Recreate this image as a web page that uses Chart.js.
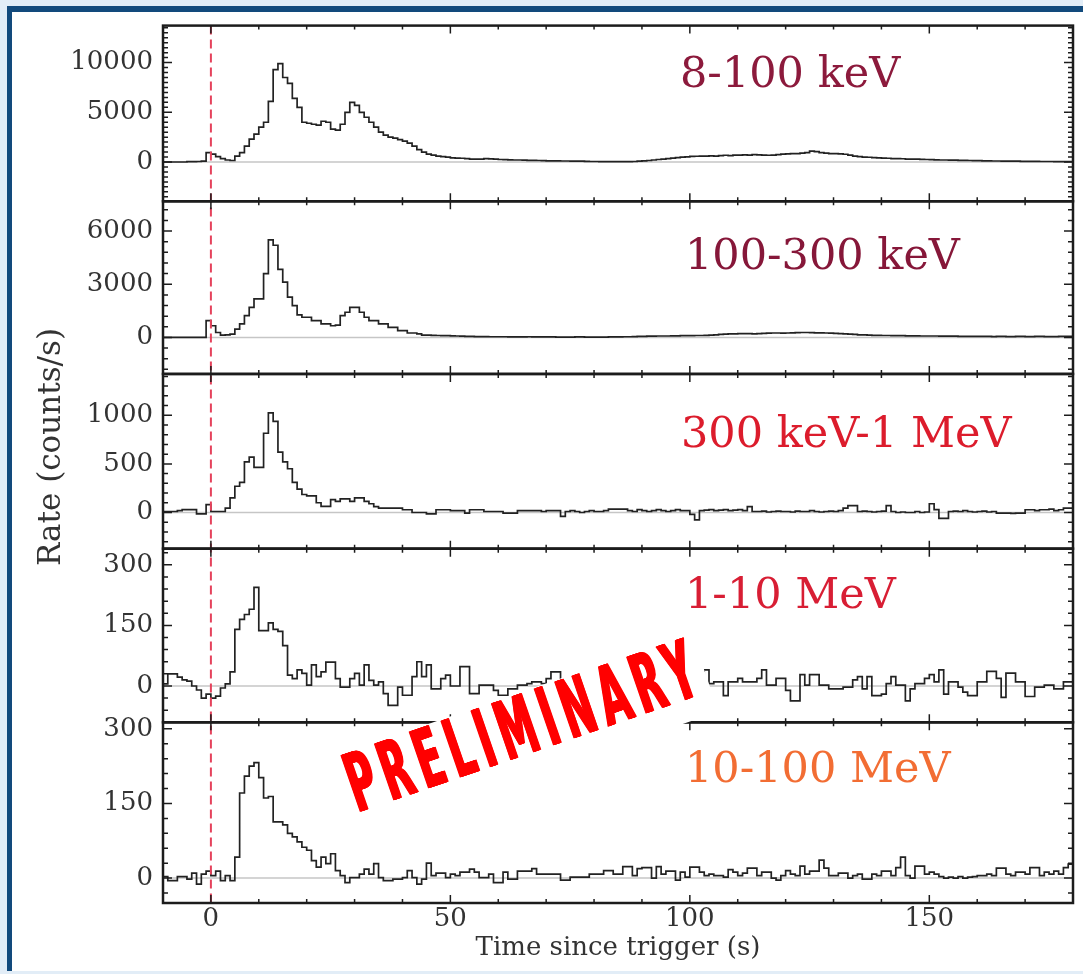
<!DOCTYPE html>
<html><head><meta charset="utf-8">
<script src="https://cdn.jsdelivr.net/npm/chart.js@4.4.1/dist/chart.umd.min.js"></script>
<style>
html,body{margin:0;padding:0;}
body{width:1083px;height:974px;overflow:hidden;background:#e2edf7;position:relative;}
#band{position:absolute;left:7px;top:6px;right:0;bottom:3px;background:#124a7c;}
#sheet{position:absolute;left:12px;top:12px;right:0;bottom:3px;background:#ffffff;}
canvas{position:absolute;left:0;top:0;}
</style></head><body>
<div id="band"></div><div id="sheet"></div>
<canvas id="c" width="1083" height="974"></canvas>
<script>
// ---- data (1 s bins, from -10 s to 180 s) ----
const timeStart = -10;
const binWidth = 1;
const timeEnd = 180;

const bandLabels = ['8-100 keV', '100-300 keV', '300 keV-1 MeV', '1-10 MeV', '10-100 MeV'];

const rate8to100keV = [
  0,0,0,0,0,30,40,50,80,950,
  800,550,350,200,150,600,950,1600,2300,2800,
  3500,4000,6100,9300,9900,8500,7900,6400,5500,4000,
  3900,3800,3700,4100,4000,3300,3200,3800,5000,6000,
  5700,5000,4500,4000,3500,3000,2700,2500,2400,2250,
  2100,1900,1600,1250,1000,800,700,600,550,500,
  420,400,380,350,300,280,300,350,320,300,
  250,230,220,200,200,180,170,160,150,130,
  120,120,110,100,100,90,90,80,60,50,
  50,40,30,30,40,30,30,40,50,80,
  120,150,200,250,300,350,400,450,500,520,
  560,580,600,600,620,600,650,680,650,700,
  700,720,700,750,720,700,680,700,750,800,
  820,850,850,900,950,1100,1050,950,900,850,
  850,820,780,700,600,550,500,480,450,420,
  400,380,350,350,330,300,300,280,260,250,
  230,220,200,200,180,180,160,160,150,140,
  130,120,110,100,100,90,80,80,80,70,
  70,60,60,50,50,50,40,40,40,40
];
const rate100to300keV = [
  0,0,0,0,0,0,0,0,0,950,
  660,280,130,150,190,470,760,1230,1700,2180,
  2180,3600,5500,5200,3840,3120,2270,1800,1270,1140,
  1140,950,950,760,760,660,700,1230,1420,1700,
  1700,1420,1140,950,950,760,760,570,570,380,
  380,250,250,200,130,130,120,110,100,100,
  90,80,70,60,60,50,50,50,40,40,
  40,40,30,30,30,30,40,30,30,30,
  30,30,20,20,20,20,30,30,20,20,
  20,20,20,30,30,30,40,40,50,60,
  60,70,70,80,80,80,90,90,100,100,
  100,110,110,120,130,150,170,190,200,200,
  210,220,220,200,210,230,240,250,250,240,
  250,260,270,280,280,270,260,260,250,240,
  230,220,200,190,170,150,140,130,120,120,
  110,110,100,100,100,90,90,90,80,80,
  80,80,70,70,70,70,60,60,60,60,
  60,60,60,50,60,60,50,50,60,60,
  50,50,60,60,50,50,50,60,60,60
];
const rate300keVto1MeV = [
  10,10,10,20,30,30,30,-15,-15,80,
  10,10,10,45,150,270,310,520,570,465,
  465,815,1025,937,620,520,450,310,240,185,
  170,170,100,63,63,133,115,140,140,115,
  150,150,115,90,60,45,45,45,45,45,
  28,28,0,0,0,-15,-15,28,28,28,
  20,20,20,-7,28,28,28,10,10,10,
  10,-7,-7,-7,20,20,20,20,20,10,
  20,20,20,-40,10,20,10,0,10,20,
  10,10,20,35,35,35,35,20,10,30,
  20,10,20,30,20,10,20,30,20,20,
  -20,-75,20,25,30,20,25,30,20,25,
  30,20,60,10,10,15,5,10,15,10,
  10,5,15,10,10,20,10,5,10,15,
  10,20,45,70,70,10,15,10,5,10,
  15,70,10,0,5,0,0,10,0,5,
  90,30,-60,-60,10,15,10,20,10,5,
  10,15,5,10,-7,-7,-7,-10,-7,-7,
  28,28,20,28,28,35,20,28,45,45
];
const rate1to10MeV = [
  5,30,30,22,15,12,0,-10,-30,-20,
  -30,-25,-5,5,35,140,165,177,190,244,
  137,137,156,140,135,100,27,18,40,31,
  2,52,23,35,59,59,18,-3,-3,18,
  31,2,52,14,2,10,-19,-48,-48,-3,
  -23,-23,23,60,23,52,-7,-7,18,27,
  0,0,48,48,-19,-19,2,2,2,-11,
  -23,-23,-7,-7,2,2,6,10,10,6,
  18,35,35,10,-10,20,5,-15,30,0,
  15,-20,10,25,-5,5,40,-10,0,20,
  -15,10,30,-5,5,15,-20,0,35,10,
  -10,20,5,40,6,10,10,-24,10,10,
  19,10,10,10,19,40,2,2,19,19,
  -11,-37,-37,28,2,28,28,2,2,-7,
  -7,-7,-3,-3,15,23,-7,23,-24,-24,
  -20,6,23,2,2,-37,-7,6,6,19,
  28,10,40,-20,10,10,-3,-15,-24,-24,
  10,10,36,36,19,-28,32,32,10,10,
  -26,-26,-3,-3,2,2,-7,-7,10,10
];
const rate10to100MeV = [
  3,-5,-5,3,3,-2,10,-12,8,14,
  5,14,-5,5,-5,42,171,205,225,232,
  202,161,164,113,113,107,90,83,73,62,
  56,35,22,42,29,49,15,5,-9,1,
  1,8,18,8,29,1,-5,-5,-2,-2,
  1,15,1,-12,-2,30,5,10,10,1,
  8,5,12,12,18,12,1,1,8,-9,
  -9,12,-2,-2,14,14,14,19,8,8,
  8,8,8,-4,-4,2,2,2,2,8,
  8,8,15,15,8,8,23,23,5,19,
  21,21,0,23,8,14,14,-4,12,2,
  22,22,12,5,8,5,5,2,17,12,
  5,10,20,20,5,12,12,0,-4,5,
  15,8,5,24,8,14,14,36,20,5,
  5,10,10,0,5,8,-2,-2,8,5,
  14,14,5,21,42,5,0,24,24,8,
  12,8,3,0,2,0,3,0,2,3,
  5,5,8,5,20,20,8,5,12,12,
  8,21,21,5,12,8,14,8,21,28
];
const seriesValues = [rate8to100keV, rate100to300keV, rate300keVto1MeV, rate1to10MeV, rate10to100MeV];

// tick labels
const xTickValues = [0, 50, 100, 150];
const yTickValues = [[0, 5000, 10000], [0, 3000, 6000], [0, 500, 1000], [0, 150, 300], [0, 150, 300]];
const yMinorStep = [500, 600, 100, 30, 30];

// axis limits
const yMin = [-3950, -2060, -372, -90, -50];
const yMax = [13720, 7680, 1425, 340, 313];
const panelWeight = [176, 173, 175, 174, 181];

const xTitle = 'Time since trigger (s)';
const yTitle = 'Rate (counts/s)';
const stampText = 'PRELIMINARY';

// ---- styling ----
const panelIds = ['y1', 'y2', 'y3', 'y4', 'y5'];
const labelColors = ['#8c1a3c', '#861739', '#dc1c2c', '#d81e34', '#f26d33'];
const labelLeft = [680, 685, 681, 685, 685];
const labelBaseOffset = [61, 68, 73, 59, 60];
const serif = '"DejaVu Serif", "Liberation Serif", serif';
const textColor = '#333333';

function toSteps(vals) {
  const pts = vals.map((v, i) => ({ x: timeStart + i * binWidth, y: v }));
  pts.push({ x: timeEnd, y: vals[vals.length - 1] });
  return pts;
}

const scales = {
  x: {
    type: 'linear', position: 'bottom', min: timeStart, max: timeEnd,
    grid: { display: false, drawTicks: false }, border: { display: false },
    ticks: { font: { family: serif, size: 26 }, color: textColor, padding: 1, maxRotation: 0, autoSkip: false,
             callback: v => String(v) },
    afterBuildTicks: s => { s.ticks = xTickValues.map(v => ({ value: v })); },
    afterFit: s => { s.height = 60; }
  }
};
panelIds.forEach((id, i) => {
  scales[id] = {
    type: 'linear', position: 'left', stack: 'bands', stackWeight: panelWeight[i], weight: 5 - i,
    min: yMin[i], max: yMax[i],
    grid: { display: false, drawTicks: false }, border: { display: false },
    ticks: { font: { family: serif, size: 26 }, color: textColor, padding: 10, autoSkip: false,
             callback: v => String(v) },
    afterBuildTicks: s => { s.ticks = yTickValues[i].map(v => ({ value: v })); },
    afterFit: s => { s.width = 151; }
  };
});

const decor = {
  id: 'decor',
  beforeDatasetsDraw(chart) {
    const ctx = chart.ctx, { left, right } = chart.chartArea;
    ctx.save();
    ctx.strokeStyle = '#c6c6c6'; ctx.lineWidth = 1.5;
    panelIds.forEach(id => {
      const y = chart.scales[id].getPixelForValue(0);
      ctx.beginPath(); ctx.moveTo(left, y); ctx.lineTo(right, y); ctx.stroke();
    });
    ctx.restore();
  },
  afterDatasetsDraw(chart) {
    const ctx = chart.ctx, area = chart.chartArea, xs = chart.scales.x;
    ctx.save();
    // trigger line
    const x0 = xs.getPixelForValue(0);
    ctx.strokeStyle = '#e5425c'; ctx.lineWidth = 2; ctx.setLineDash([9, 5]);
    ctx.beginPath(); ctx.moveTo(x0, area.top); ctx.lineTo(x0, area.bottom); ctx.stroke();
    ctx.setLineDash([]);
    // frames and ticks
    ctx.strokeStyle = '#1c1c1c';
    panelIds.forEach((id, i) => {
      const s = chart.scales[id];
      const top = s.top, bot = s.bottom;
      ctx.lineWidth = 1.5;
      for (let v = timeStart + 10; v < timeEnd; v += 10) {
        const px = xs.getPixelForValue(v);
        const len = (v % 50 === 0) ? 8 : 4;
        ctx.beginPath();
        ctx.moveTo(px, top); ctx.lineTo(px, top + len);
        ctx.moveTo(px, bot); ctx.lineTo(px, bot - len);
        ctx.stroke();
      }
      const step = yMinorStep[i];
      for (let v = Math.ceil(yMin[i] / step) * step; v <= yMax[i]; v += step) {
        const py = s.getPixelForValue(v);
        if (py < top + 2 || py > bot - 2) continue;
        const len = yTickValues[i].includes(v) ? 9 : 5;
        ctx.beginPath();
        ctx.moveTo(area.left, py); ctx.lineTo(area.left + len, py);
        ctx.moveTo(area.right, py); ctx.lineTo(area.right - len, py);
        ctx.stroke();
      }
      ctx.lineWidth = 2.5;
      ctx.strokeRect(area.left, top, area.right - area.left, bot - top);
      // band label
      ctx.fillStyle = labelColors[i];
      ctx.font = '43px ' + serif;
      ctx.textAlign = 'left'; ctx.textBaseline = 'alphabetic';
      ctx.fillText(bandLabels[i], labelLeft[i], top + labelBaseOffset[i]);
    });
    // axis titles
    ctx.fillStyle = textColor;
    ctx.font = '26px ' + serif;
    ctx.textAlign = 'center'; ctx.textBaseline = 'middle';
    ctx.fillText(xTitle, (area.left + area.right) / 2, 948);
    ctx.save();
    ctx.font = '31px ' + serif;
    ctx.translate(52, 447); ctx.rotate(-Math.PI / 2);
    ctx.fillText(yTitle, 0, 0);
    ctx.restore();
    ctx.restore();
  },
  afterDraw(chart) {
    const ctx = chart.ctx;
    ctx.save();
    ctx.translate(360, 813);
    ctx.rotate(-19 * Math.PI / 180);
    ctx.fillStyle = '#ffffff';
    ctx.beginPath(); ctx.roundRect(-12, -62, 384, 83, 18); ctx.fill();
    ctx.font = 'bold 82px "DejaVu Sans", "Liberation Sans", sans-serif';
    ctx.letterSpacing = '16px';
    ctx.textAlign = 'left'; ctx.textBaseline = 'alphabetic';
    const m = ctx.measureText(stampText);
    const ink = m.actualBoundingBoxLeft + m.actualBoundingBoxRight;
    const thicken = 2;
    const sx = (364 - thicken) / ink;
    ctx.scale(sx, 1);
    ctx.fillStyle = '#ff0000';
    for (let d = 0; d <= thicken; d += 0.5) {
      ctx.fillText(stampText, m.actualBoundingBoxLeft + d / sx, -1);
    }
    ctx.restore();
  }
};

new Chart(document.getElementById('c'), {
  type: 'line',
  data: {
    datasets: seriesValues.map((vals, i) => ({
      label: bandLabels[i], data: toSteps(vals), xAxisID: 'x', yAxisID: panelIds[i],
      stepped: true, borderColor: '#222222', borderWidth: 1.7, pointRadius: 0, fill: false, tension: 0
    }))
  },
  options: {
    responsive: false, animation: false, devicePixelRatio: 1,
    layout: { padding: { left: 12, right: 10, top: 24, bottom: 11 } },
    plugins: { legend: { display: false }, tooltip: { enabled: false } },
    scales
  },
  plugins: [decor]
});
</script>
</body></html>
